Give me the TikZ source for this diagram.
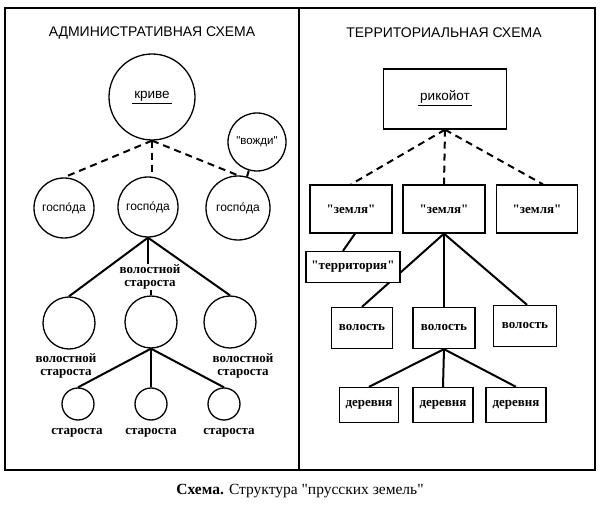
\documentclass[tikz,border=0pt]{standalone}
\usepackage{fontspec}
\setmainfont{Liberation Serif}[Ligatures=TeXOff]
\newfontfamily\sansf{Liberation Sans}[Ligatures=TeXOff]
\usetikzlibrary{backgrounds}
\begin{document}
\begin{tikzpicture}[x=1pt,y=-1pt,
  conn/.style={line width=2pt},
  dconn/.style={line width=2pt,dash pattern=on 7pt off 5pt},
  circ/.style={draw,circle,line width=1.3pt,inner sep=0pt,fill=white},
  sq/.style={draw,rectangle,line width=1.3pt,inner sep=0pt,fill=white},
  lab/.style={font=\sansf\fontsize{12}{14}\selectfont},
  blab/.style={font=\sansf\fontsize{13.5}{14}\selectfont},
  slab/.style={font=\bfseries\fontsize{13}{12.5}\selectfont,align=center,inner sep=0.5pt},
  ttl/.style={font=\sansf\fontsize{14}{16}\selectfont}
]
\useasboundingbox (0,0) rectangle (600,505);
\draw[line width=1.8pt] (5,8) rectangle (595,470);
\draw[line width=1.5pt] (299,8) -- (299,470);

\node[ttl] (t1) at (152,33) {АДМИНИСТРАТИВНАЯ СХЕМА};
\node[ttl] (t2) at (444,33) {ТЕРРИТОРИАЛЬНАЯ СХЕМА};

% left side
\node[circ,minimum size=86pt] (krive) at (152,97) {};
\node[blab,inner sep=2pt] (kl) at (152,96) {криве};
\draw[line width=1.2pt] (kl.south west) -- (kl.south east);
\node[circ,minimum size=58pt] (vozhdi) at (257,142) {};
\node[lab,font=\sansf\fontsize{11.5}{13}\selectfont] at (vozhdi) {"вожди"};
\node[circ,minimum size=60pt] (g1) at (64,208) {};
\node[circ,minimum size=60pt] (g2) at (148,207) {};
\node[circ,minimum size=64pt] (g3) at (238,208) {};
\node[lab] at (g1) {госпо́да};
\node[lab] at (g2) {госпо́да};
\node[lab] at (g3) {госпо́да};

\node[circ,minimum size=52pt] (v1) at (69,323) {};
\node[circ,minimum size=52pt] (v2) at (151,322) {};
\node[circ,minimum size=52pt] (v3) at (230,322) {};
\node[slab] (wl1) at (66,366) {волостной\\староста};
\node[slab] (wl2) at (150,277) {волостной\\староста};
\node[slab] (wl3) at (243,366) {волостной\\староста};

\node[circ,minimum size=32pt] (s1) at (78,404) {};
\node[circ,minimum size=32pt] (s2) at (151,404) {};
\node[circ,minimum size=32pt] (s3) at (224,404) {};
\node[slab] (sl1) at (77,433) {староста};
\node[slab] (sl2) at (151,433) {староста};
\node[slab] (sl3) at (229,433) {староста};

% right side
\node[sq,minimum width=123pt,minimum height=60pt] (rik) at (445,99) {};
\node[blab,inner sep=2pt] (rl) at (445,97) {рикойот};
\draw[line width=1.2pt] (rl.south west) -- (rl.south east);
\node[sq,minimum width=82pt,minimum height=48pt,slab] (z1) at (351,209) {"земля"};
\node[sq,minimum width=82pt,minimum height=48pt,slab] (z2) at (444,209) {"земля"};
\node[sq,minimum width=81pt,minimum height=48pt,slab] (z3) at (537,209) {"земля"};
\node[sq,minimum width=94pt,minimum height=31pt,slab] (ter) at (353,267) {"территория"};
\node[sq,minimum width=61pt,minimum height=41pt,slab] (vol1) at (362,328) {волость};
\node[sq,minimum width=62pt,minimum height=41pt,slab] (vol2) at (444,328) {волость};
\node[sq,minimum width=63pt,minimum height=41pt,slab] (vol3) at (525,326) {волость};
\node[sq,minimum width=59pt,minimum height=35pt,slab] (d1) at (369,405) {деревня};
\node[sq,minimum width=60pt,minimum height=35pt,slab] (d2) at (443,405) {деревня};
\node[sq,minimum width=60pt,minimum height=35pt,slab] (d3) at (516,405) {деревня};

\begin{scope}[on background layer]
\draw[dconn] (krive.south) -- (g1.north);
\draw[dconn] (krive.south) -- (krive.south |- g2.north);
\draw[dconn] (krive.south) -- (g3.north);
\draw[conn] (vozhdi) -- (g3);
\draw[conn] (g2.south) -- (v1.north);
\draw[conn] (g2.south) -- (v3.north);
\draw[conn] (g2.south) -- (g2.south |- wl2.north);
\draw[conn] (v2.north |- wl2.south) -- (v2.north);
\draw[conn] (v2.south) -- (s1.north);
\draw[conn] (v2.south) -- (s2.north);
\draw[conn] (v2.south) -- (s3.north);

\draw[dconn] (rik.south) -- (z1.north);
\draw[dconn] (rik.south) -- (z2.north);
\draw[dconn] (rik.south) -- ([xshift=6pt]z3.north);
\draw[conn] ([xshift=4pt]z1.south) -- ([xshift=-10pt]ter.north);
\draw[conn] (z2.south) -- (vol1.north);
\draw[conn] (z2.south) -- (vol2.north);
\draw[conn] (z2.south) -- ([xshift=2pt]vol3.north);
\draw[conn] (vol2.south) -- (d1.north);
\draw[conn] (vol2.south) -- (d2.north);
\draw[conn] (vol2.south) -- (d3.north);
\end{scope}

\node[font=\fontsize{15.5}{17}\selectfont] (cap) at (300,491) {\textbf{Схема.} Структура "прусских земель"};
\end{tikzpicture}
\end{document}
